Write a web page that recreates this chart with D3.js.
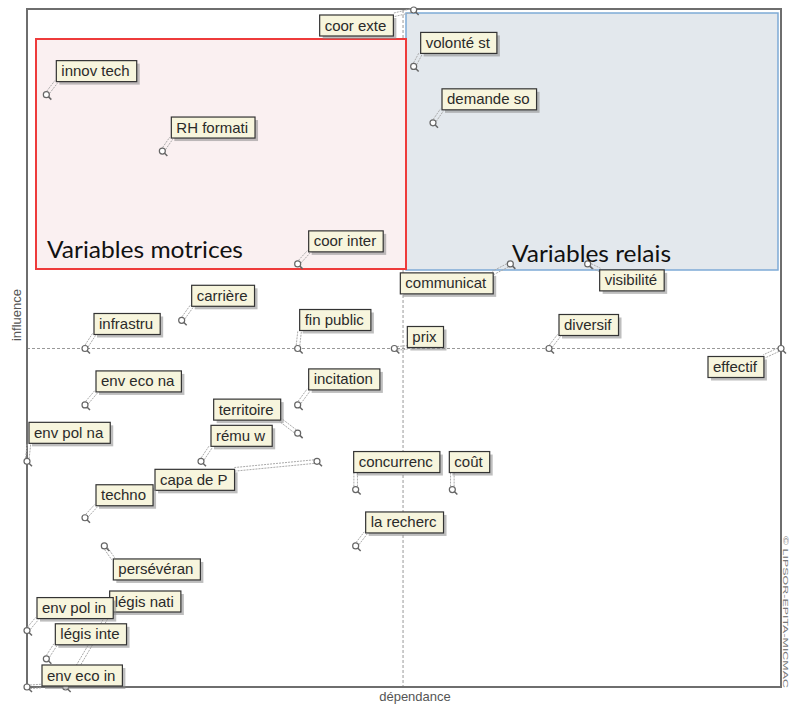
<!DOCTYPE html>
<html>
<head>
<meta charset="utf-8">
<script src="https://cdn.jsdelivr.net/npm/d3@7"></script>
<style>
  body { margin: 0; background: #fff; }
  svg { display: block; }
</style>
</head>
<body>
<svg id="plan" width="789" height="704"></svg>
<script>
// variables of the influence / dependence map
const names = ["coor exte", "volonté st", "demande so", "innov tech", "RH formati", "coor inter",
  "communicat", "visibilité", "carrière", "infrastru", "fin public", "prix", "diversif", "effectif",
  "env eco na", "incitation", "territoire", "env pol na", "rému w", "capa de P", "concurrenc", "coût",
  "techno", "la recherc", "persévéran", "légis nati", "env pol in", "légis inte", "env eco in"];
const dependance = [20, 20, 21, 1, 7, 14, 25, 29, 8, 3, 14, 19, 27, 39, 3, 14, 14, 0, 9, 15, 17, 22, 3, 17, 4, 2, 0, 1, 0];
const influence = [24, 22, 20, 21, 19, 15, 15, 15, 13, 12, 12, 12, 12, 12, 10, 10, 9, 8, 8, 8, 7, 7, 6, 5, 5, 0, 2, 1, 0];
const meanDep = 19.45;
const meanInf = 12.0;

// label box placement relative to its point (px)
const labelOffset = {
  "coor exte": [-94, 5], "volonté st": [7, -34], "demande so": [9, -34], "innov tech": [10, -34],
  "RH formati": [9, -34], "coor inter": [11, -33], "communicat": [-110, 9], "visibilité": [12, 6],
  "carrière": [10, -35], "infrastru": [9, -35], "fin public": [2, -39], "prix": [13, -22],
  "diversif": [10, -34], "effectif": [-73, 8], "env eco na": [11, -34], "incitation": [11, -36],
  "territoire": [-84, -34], "env pol na": [2, -39], "rému w": [10, -36], "capa de P": [-162, 8],
  "concurrenc": [-2, -38], "coût": [-3, -38], "techno": [11, -33], "la recherc": [10, -34],
  "persévéran": [9, 13], "légis nati": [44, -96], "env pol in": [10, -33], "légis inte": [9, -35],
  "env eco in": [15, -22]
};

const data = names.map((n, i) => ({ name: n, dep: dependance[i], inf: influence[i] }));

const plotLeft = 27, plotRight = 781, plotTop = 10, plotBottom = 687;
const svg = d3.select("#plan");

const x = d3.scaleLinear().domain([0, 39]).range([plotLeft, plotRight]);
const y = d3.scaleLinear().domain([0, 24]).range([plotBottom, plotTop]);

// mean lines
svg.append("line")
  .attr("x1", x(meanDep)).attr("x2", x(meanDep))
  .attr("y1", plotTop).attr("y2", plotBottom)
  .attr("stroke", "#999").attr("stroke-dasharray", "3,2");
svg.append("line")
  .attr("x1", plotLeft).attr("x2", plotRight)
  .attr("y1", y(meanInf)).attr("y2", y(meanInf))
  .attr("stroke", "#999").attr("stroke-dasharray", "3,2");

// zone boxes
svg.append("rect")
  .attr("x", 406).attr("y", 13).attr("width", 372).attr("height", 257)
  .attr("fill", "#e3e8ed").attr("stroke", "#7eaad6").attr("stroke-width", 1.5);
svg.append("rect")
  .attr("x", 36).attr("y", 39).attr("width", 370).attr("height", 230)
  .attr("fill", "#faf0f1").attr("stroke", "#ee3b3b").attr("stroke-width", 2);

// frame
svg.append("rect")
  .attr("x", plotLeft).attr("y", 9).attr("width", plotRight - plotLeft).attr("height", plotBottom - 9)
  .attr("fill", "none").attr("stroke", "#6e6e6e").attr("stroke-width", 2);

const labels = svg.append("g");
const font = "'Liberation Sans', Arial, sans-serif";

data.forEach(d => {
  const px = x(d.dep), py = y(d.inf);
  const off = labelOffset[d.name];
  const g = labels.append("g");
  const t = g.append("text")
    .attr("font-family", font).attr("font-size", 15)
    .attr("fill", "#2a2a2a").text(d.name);
  const w = t.node().getComputedTextLength() + 12;
  const h = 21;
  const bx = px + off[0], by = py + off[1];

  // connector (double dotted line) to nearest box point
  const tx = Math.max(bx, Math.min(px, bx + w));
  const ty = Math.max(by, Math.min(py, by + h));
  const dx = tx - px, dy = ty - py;
  const len = Math.sqrt(dx * dx + dy * dy) || 1;
  const nx = -dy / len * 1.8, ny = dx / len * 1.8;
  [-1, 1].forEach(s => {
    g.insert("line", "text")
      .attr("x1", px + s * nx).attr("y1", py + s * ny)
      .attr("x2", tx + s * nx).attr("y2", ty + s * ny)
      .attr("stroke", "#aaa").attr("stroke-width", 1).attr("stroke-dasharray", "2,1");
  });

  // point marker
  g.insert("line", "text")
    .attr("x1", px + 2).attr("y1", py + 2).attr("x2", px + 5).attr("y2", py + 5)
    .attr("stroke", "#666").attr("stroke-width", 1.5);
  g.insert("circle", "text")
    .attr("cx", px).attr("cy", py).attr("r", 3)
    .attr("fill", "#fff").attr("stroke", "#666").attr("stroke-width", 1.2);

  // label box with shadow
  g.insert("rect", "text")
    .attr("x", bx + 3).attr("y", by + 3).attr("width", w).attr("height", h)
    .attr("fill", "#888").attr("opacity", 0.55);
  g.insert("rect", "text")
    .attr("x", bx).attr("y", by).attr("width", w).attr("height", h)
    .attr("fill", "#f7f5dd").attr("stroke", "#333").attr("stroke-width", 1.2);
  t.attr("x", bx + 5).attr("y", by + 15.5);
});

// zone titles
svg.append("text")
  .attr("x", 47).attr("y", 258)
  .attr("font-family", "Lato, 'Open Sans', sans-serif").attr("font-size", 23)
  .attr("textLength", 196).attr("lengthAdjust", "spacingAndGlyphs")
  .attr("fill", "#111").text("Variables motrices");
svg.append("text")
  .attr("x", 512).attr("y", 262)
  .attr("font-family", "Lato, 'Open Sans', sans-serif").attr("font-size", 23)
  .attr("textLength", 159).attr("lengthAdjust", "spacingAndGlyphs")
  .attr("fill", "#111").text("Variables relais");

// axis titles
svg.append("text")
  .attr("transform", "translate(21,315) rotate(-90)")
  .attr("text-anchor", "middle")
  .attr("font-family", font).attr("font-size", 13).attr("fill", "#555")
  .text("influence");
svg.append("text")
  .attr("x", 415).attr("y", 701)
  .attr("text-anchor", "middle")
  .attr("font-family", font).attr("font-size", 13).attr("fill", "#555")
  .text("dépendance");
svg.append("text")
  .attr("transform", "translate(783,536) rotate(90)")
  .attr("font-family", font).attr("font-size", 7.5).attr("fill", "#777")
  .attr("textLength", 152).attr("lengthAdjust", "spacingAndGlyphs")
  .text("© LIPSOR-EPITA-MICMAC");
</script>
</body>
</html>
